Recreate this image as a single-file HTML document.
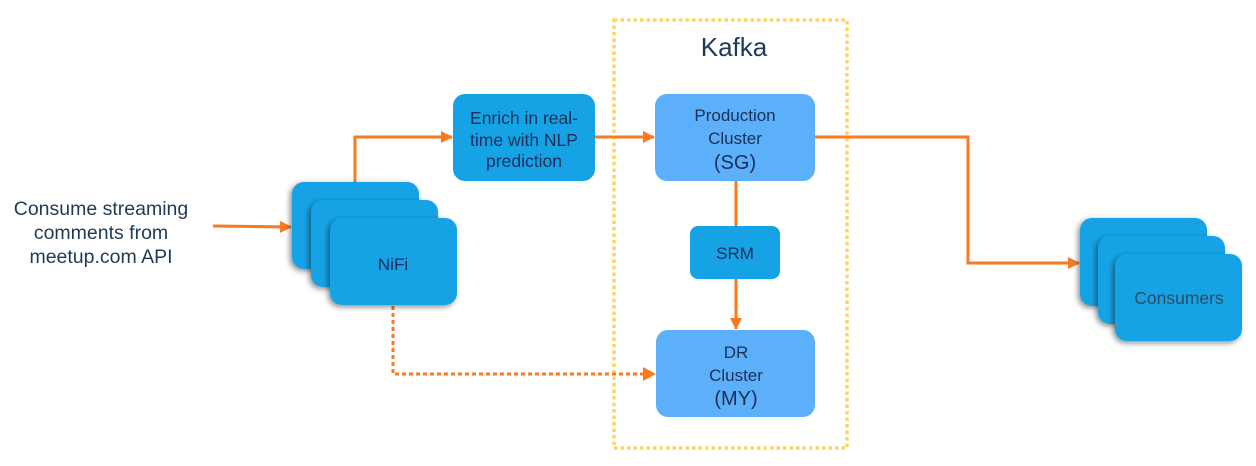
<!DOCTYPE html>
<html><head><meta charset="utf-8"><style>
html,body{margin:0;padding:0;background:#fff;}
svg{display:block;font-family:"Liberation Sans",Arial,sans-serif;}
</style></head><body>
<svg width="1256" height="466" viewBox="0 0 1256 466" xmlns="http://www.w3.org/2000/svg">
<defs>
<filter id="sh" x="-20%" y="-20%" width="140%" height="140%"><feDropShadow dx="-2" dy="2" stdDeviation="3" flood-color="#000" flood-opacity="0.45"/></filter>
<marker id="ah" markerWidth="12" markerHeight="12" refX="11" refY="6" orient="auto" markerUnits="userSpaceOnUse"><path d="M0,0 L12,6 L0,12 z" fill="#f97a1f"/></marker>
</defs>
<rect x="614" y="20" width="233" height="428" fill="none" stroke="#fdd563" stroke-width="3.5" stroke-dasharray="3.5,3"/>
<text x="734" y="56" font-size="26" fill="#1f3a55" text-anchor="middle">Kafka</text>
<g stroke="#f97a1f" stroke-width="3" fill="none">
<line x1="213" y1="226" x2="291" y2="227" marker-end="url(#ah)"/>
<polyline points="355,182 355,137 452,137" marker-end="url(#ah)"/>
<line x1="595" y1="137" x2="654" y2="137" marker-end="url(#ah)"/>
<polyline points="815,137 968,137 968,263 1079,263" marker-end="url(#ah)"/>
<line x1="736" y1="181" x2="736" y2="226"/>
<line x1="736" y1="279" x2="736" y2="329" marker-end="url(#ah)"/>
<polyline points="393,306 393,374 645,374" stroke-dasharray="4,3"/>
</g>
<path d="M643,367 L656,374 L643,381 z" fill="#f97a1f"/>
<g font-size="19.5" fill="#1f3a55" text-anchor="middle">
<text x="101" y="215">Consume streaming</text>
<text x="101" y="239">comments from</text>
<text x="101" y="263">meetup.com API</text>
</g>
<rect x="292" y="182" width="127" height="87" rx="12" fill="#16a3e6" filter="url(#sh)"/>
<rect x="311" y="200" width="127" height="87" rx="12" fill="#16a3e6" filter="url(#sh)"/>
<rect x="330" y="218" width="127" height="87" rx="12" fill="#16a3e6" filter="url(#sh)"/>
<text x="393" y="270" font-size="17" fill="#1a2e5a" text-anchor="middle">NiFi</text>
<rect x="453" y="94" width="142" height="87" rx="12" fill="#16a3e6"/>
<g font-size="17.5" fill="#1a2e5a" text-anchor="middle">
<text x="524" y="124">Enrich in real-</text>
<text x="524" y="146">time with NLP</text>
<text x="524" y="167">prediction</text>
</g>
<rect x="655" y="94" width="160" height="87" rx="12" fill="#5cb0fa"/>
<g fill="#1a2e5a" text-anchor="middle">
<text x="735" y="121" font-size="17">Production</text>
<text x="735" y="144" font-size="17">Cluster</text>
<text x="735" y="169" font-size="20">(SG)</text>
</g>
<rect x="690" y="226" width="90" height="53" rx="8" fill="#16a3e6"/>
<text x="735" y="259" font-size="17" fill="#1a2e5a" text-anchor="middle">SRM</text>
<rect x="656" y="330" width="159" height="87" rx="12" fill="#5cb0fa"/>
<g fill="#1a2e5a" text-anchor="middle">
<text x="736" y="358" font-size="17">DR</text>
<text x="736" y="381" font-size="17">Cluster</text>
<text x="736" y="405" font-size="20">(MY)</text>
</g>
<rect x="1080" y="218" width="127" height="88" rx="12" fill="#16a3e6" filter="url(#sh)"/>
<rect x="1098" y="236" width="127" height="88" rx="12" fill="#16a3e6" filter="url(#sh)"/>
<rect x="1115" y="254" width="127" height="87" rx="12" fill="#16a3e6" filter="url(#sh)"/>
<text x="1179" y="304" font-size="17.5" fill="#2d4a63" text-anchor="middle">Consumers</text>
</svg>
</body></html>
